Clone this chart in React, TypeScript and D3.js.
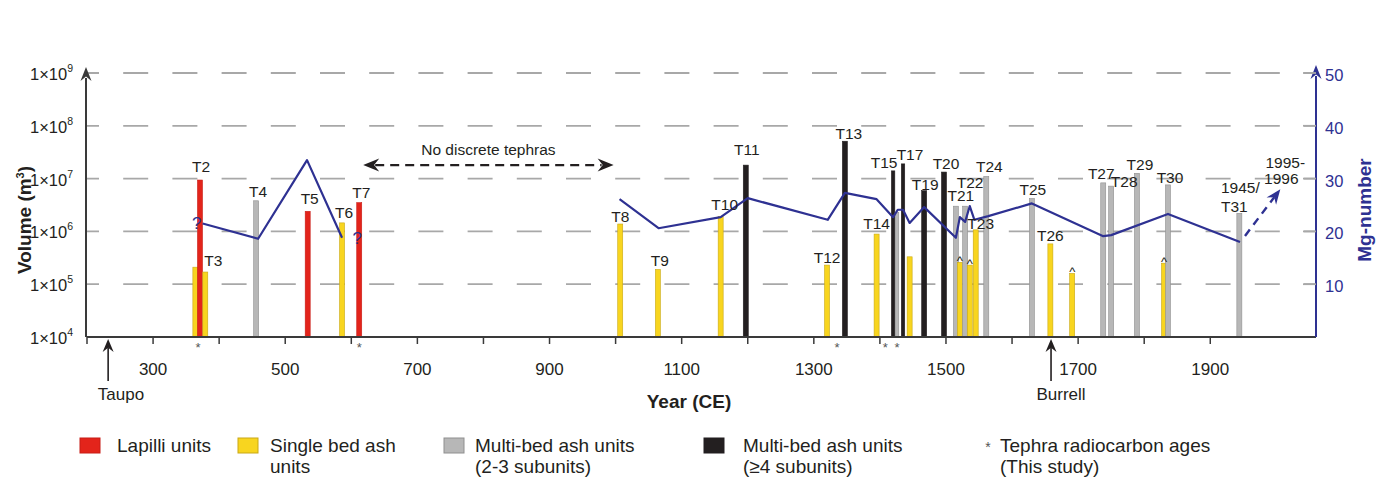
import * as d3 from 'd3';

// ---- data ----
const barLabels = ['', 'T2', 'T3', 'T4', 'T5', 'T6', 'T7', 'T8', 'T9', 'T10', 'T11', 'T12', 'T13', 'T14', 'T15', '', 'T17', '', 'T19', 'T20', 'T21', '', 'T22', '', 'T23', 'T24', 'T25', 'T26', '', 'T27', 'T28', 'T29', '', 'T30', 'T31'];
const barYears = [364, 371, 379, 456, 534, 586, 612, 1007, 1064, 1159, 1197, 1320, 1347, 1395, 1420, 1426, 1435, 1445, 1467, 1497, 1515, 1521, 1529, 1536, 1545, 1561, 1630, 1658, 1691, 1738, 1750, 1789, 1830, 1836, 1944];
const barVolumes = [2.1e5, 9.4e6, 1.7e5, 3.8e6, 2.4e6, 1.45e6, 3.5e6, 1.38e6, 1.9e5, 1.9e6, 1.8e7, 2.3e5, 5.1e7, 8.9e5, 1.4e7, 2.3e6, 1.9e7, 3.3e5, 5.9e6, 1.33e7, 3.0e6, 2.6e5, 3.0e6, 2.3e5, 1.07e6, 1.1e7, 4.2e6, 5.8e5, 1.6e5, 8.3e6, 7.2e6, 1.26e7, 2.5e5, 7.6e6, 2.2e6];
// L = lapilli, S = single bed ash, M = multi-bed 2-3, B = multi-bed >=4
const barTypes = ['S', 'L', 'S', 'M', 'L', 'S', 'L', 'S', 'S', 'S', 'B', 'S', 'B', 'S', 'B', 'M', 'B', 'S', 'B', 'B', 'M', 'S', 'M', 'S', 'S', 'M', 'M', 'S', 'S', 'M', 'M', 'M', 'S', 'M', 'M'];
const caretYears = [1521, 1536, 1691, 1830];
const asteriskYears = [368, 612, 1335, 1408, 1426];

const mgEarlyYears = [375, 459, 533, 586];
const mgEarly = [21.5, 18.6, 33.5, 18.8];
const mgLateYears = [1006, 1065, 1159, 1200, 1321, 1347, 1395, 1420, 1427, 1435, 1445, 1467, 1515, 1521, 1529, 1536, 1543, 1564, 1630, 1738, 1750, 1836, 1945];
const mgLate = [26.1, 20.6, 22.7, 26.3, 22.2, 27.3, 26.1, 22.7, 24.1, 24.1, 21.6, 24.6, 18.8, 22.7, 21.8, 24.8, 22.2, 22.9, 25.3, 19.1, 19.3, 23.3, 18.0];
const mgModern = { year: 2006, mg: 28 };

const volumeTicks = [1e4, 1e5, 1e6, 1e7, 1e8, 1e9];
const mgTicks = [10, 20, 30, 40, 50];
const yearTicks = d3.range(200, 2000, 100);
const yearLabels = [300, 500, 700, 900, 1100, 1300, 1500, 1700, 1900];

const legendItems = [
  { type: 'L', lines: ['Lapilli units'] },
  { type: 'S', lines: ['Single bed ash', 'units'] },
  { type: 'M', lines: ['Multi-bed ash units', '(2-3 subunits)'] },
  { type: 'B', lines: ['Multi-bed ash units', '(\u22654 subunits)'] },
];

// label nudges (px) relative to bar top
const labelNudge: Record<string, [number, number]> = {
  T2: [1, -8], T3: [8, -6], T4: [2, -4], T5: [2, -7], T6: [2, -5], T7: [2, -5],
  T8: [0, -2], T9: [2, -3], T10: [4, -7], T11: [1, -10], T12: [0, -2], T13: [4, -2],
  T14: [0, -5], T15: [-9, -3], T17: [7, -4], T19: [1, -1], T20: [2, -3], T21: [5, -5],
  T22: [5, -18], T23: [5, -1], T24: [3, -4], T25: [1, -3], T26: [0, -3], T27: [-2, -4],
  T28: [13, 1], T29: [3, -3], T30: [2, -2], T31: [-5, -1],
};

const fill: Record<string, string> = { L: '#e3241b', S: '#f8d51f', M: '#b7b7b7', B: '#231f20' };
const edge: Record<string, string> = { L: '#c81d17', S: '#c9a816', M: '#8f8f8f', B: '#231f20' };

const BLUE = '#2e3192';
const INK = '#231f20';
const FONT = "'Liberation Sans', Arial, Helvetica, sans-serif";

const x = d3.scaleLinear().domain([200, 2060]).range([87, 1316]);
const yV = d3.scaleLog().domain([1e4, 1e9]).range([337, 73]);
const yM = d3.scaleLinear().domain([0, 50]).range([337, 73]);

const X0 = x(200);
const X1 = x(2060);
const Y0 = yV(1e4);

// stealth arrow head, tip at (tx,ty), pointing along angle (radians)
function arrowHead(tx: number, ty: number, angle: number, len = 14, wid = 11) {
  const pts: [number, number][] = [[0, 0], [-len, -wid / 2], [-len * 0.68, 0], [-len, wid / 2]];
  const c = Math.cos(angle), s = Math.sin(angle);
  return 'M' + pts.map(([px, py]) => `${tx + px * c - py * s},${ty + px * s + py * c}`).join('L') + 'Z';
}

const mgLine = d3.line<[number, number]>().x(d => x(d[0])).y(d => yM(d[1]));

export default function App() {
  const early = mgEarlyYears.map((yr, i) => [yr, mgEarly[i]] as [number, number]);
  const late = mgLateYears.map((yr, i) => [yr, mgLate[i]] as [number, number]);
  const last = late[late.length - 1];
  const ax = x(last[0]) + 5, ay = yM(last[1]) - 6;
  const bx = x(mgModern.year), by = yM(mgModern.mg);
  const ang = Math.atan2(by - ay, bx - ax);

  const noTephraY = yV(1.8e7);
  const noTephraA = x(618), noTephraB = x(997);

  return (
    <svg width={1376} height={483} style={{ position: 'absolute', left: 0, top: 0, background: '#fff' }} fontFamily={FONT}>
      {/* grid */}
      {volumeTicks.slice(1).map(v => (
        <line key={v} x1={X0} x2={X1} y1={yV(v)} y2={yV(v)} stroke="#a8a8a8" strokeWidth={1.8} strokeDasharray="25 24.2" strokeDashoffset={13} />
      ))}

      {/* bars */}
      {barYears.map((yr, i) => {
        const t = barTypes[i];
        const w = ['T15', 'T17'].includes(barLabels[i]) || (yr === 1426 && t === 'M') ? 3.4 : 5;
        const top = yV(barVolumes[i]);
        return (
          <rect key={i} x={x(yr) - w / 2} y={top} width={w} height={Y0 - top} fill={fill[t]} stroke={edge[t]} strokeWidth={0.6} />
        );
      })}

      {/* Mg-number line */}
      <path d={mgLine(early) || ''} fill="none" stroke={BLUE} strokeWidth={2.2} strokeLinejoin="round" />
      <path d={mgLine(late) || ''} fill="none" stroke={BLUE} strokeWidth={2.2} strokeLinejoin="round" />
      <line x1={ax} y1={ay} x2={bx - 10 * Math.cos(ang)} y2={by - 10 * Math.sin(ang)} stroke={BLUE} strokeWidth={2.4} strokeDasharray="8 6" />
      <path d={arrowHead(bx, by, ang, 15, 12)} fill={BLUE} />
      <text x={x(366)} y={yM(21.5) + 6} fontSize={17} fill={BLUE} textAnchor="middle">?</text>
      <text x={x(609)} y={yM(18.8) + 6} fontSize={17} fill={BLUE} textAnchor="middle">?</text>

      {/* bar labels */}
      {barLabels.map((lab, i) => {
        if (!lab) return null;
        const [dx, dy] = labelNudge[lab] || [0, -4];
        return (
          <text key={lab} x={x(barYears[i]) + dx} y={yV(barVolumes[i]) + dy} fontSize={15.5} fill={INK} textAnchor="middle">{lab}</text>
        );
      })}
      <text x={x(1944) + 1} y={193} fontSize={15.5} fill={INK} textAnchor="middle">1945/</text>
      <text x={bx + 5} y={by - 21} fontSize={15.5} fill={INK} textAnchor="middle">1995-</text>
      <text x={bx + 1} y={by - 5} fontSize={15.5} fill={INK} textAnchor="middle">1996</text>

      {/* carets */}
      {caretYears.map(yr => {
        const i = barYears.indexOf(yr);
        return (
          <text key={yr} x={x(yr)} y={yV(barVolumes[i]) + 3} fontSize={13} fill={INK} textAnchor="middle">^</text>
        );
      })}

      {/* no discrete tephras */}
      <line x1={noTephraA + 12} x2={noTephraB - 12} y1={noTephraY} y2={noTephraY} stroke={INK} strokeWidth={2.2} strokeDasharray="9 6" />
      <path d={arrowHead(noTephraA, noTephraY, Math.PI, 16, 13)} fill={INK} />
      <path d={arrowHead(noTephraB, noTephraY, 0, 16, 13)} fill={INK} />
      <text x={(noTephraA + noTephraB) / 2} y={noTephraY - 10} fontSize={15.5} fill={INK} textAnchor="middle">No discrete tephras</text>

      {/* x axis */}
      <line x1={X0} x2={X1} y1={Y0} y2={Y0} stroke="#3a3a3a" strokeWidth={2} />
      {yearTicks.map(t => (
        <line key={t} x1={x(t)} x2={x(t)} y1={Y0} y2={Y0 + 7} stroke="#3a3a3a" strokeWidth={1.5} />
      ))}
      {yearLabels.map(t => (
        <text key={t} x={x(t)} y={375} fontSize={17} fill={INK} textAnchor="middle">{t}</text>
      ))}
      {asteriskYears.map(yr => (
        <text key={yr} x={x(yr)} y={352} fontSize={13} fill="#555" textAnchor="middle">*</text>
      ))}
      <text x={689} y={408} fontSize={19} fontWeight="bold" fill={INK} textAnchor="middle">Year (CE)</text>

      {/* Taupo / Burrell */}
      {[{ yr: 232, name: 'Taupo', lx: 121 }, { yr: 1659, name: 'Burrell', lx: 1061 }].map(a => (
        <g key={a.name}>
          <line x1={x(a.yr)} x2={x(a.yr)} y1={381} y2={348} stroke={INK} strokeWidth={1.6} />
          <path d={arrowHead(x(a.yr), Y0 + 2, -Math.PI / 2, 13, 11)} fill={INK} />
          <text x={a.lx} y={400} fontSize={17} fill={INK} textAnchor="middle">{a.name}</text>
        </g>
      ))}

      {/* left axis */}
      <line x1={X0 - 1} x2={X0 - 1} y1={Y0} y2={78} stroke="#3a3a3a" strokeWidth={2} />
      <path d={arrowHead(X0 - 1, 67, -Math.PI / 2, 14, 11)} fill="#3a3a3a" />
      {volumeTicks.map(v => (
        <text key={v} x={73} y={yV(v) + 7} fontSize={16.5} fill={INK} textAnchor="end">
          1×10
          <tspan fontSize={10.5} dy={-8}>{Math.round(Math.log10(v))}</tspan>
        </text>
      ))}
      <text transform="translate(31,220) rotate(-90)" fontSize={19} fontWeight="bold" fill={INK} textAnchor="middle">
        Volume (m<tspan fontSize={11} dy={-7}>3</tspan><tspan dy={7}>)</tspan>
      </text>

      {/* right axis */}
      <line x1={X1} x2={X1} y1={Y0} y2={76} stroke={BLUE} strokeWidth={2} />
      <path d={arrowHead(X1, 65, -Math.PI / 2, 14, 11)} fill={BLUE} />
      {mgTicks.map(m => (
        <g key={m}>
          <line x1={X1 - 13} x2={X1} y1={yM(m)} y2={yM(m)} stroke="#a8a8a8" strokeWidth={1.8} />
          <text x={1325} y={yM(m) + 8} fontSize={16.5} fill={BLUE}>{m}</text>
        </g>
      ))}
      <text transform="translate(1371,210) rotate(-90)" fontSize={19} fontWeight="bold" fill={BLUE} textAnchor="middle">Mg-number</text>

      {/* legend */}
      {legendItems.map((it, i) => {
        const lx = [80, 238, 444, 704][i];
        const tx = [117, 270, 475, 743][i];
        return (
          <g key={i}>
            <rect x={lx} y={438} width={20} height={15} fill={fill[it.type]} stroke={it.type === 'B' ? INK : edge[it.type]} strokeWidth={1} />
            {it.lines.map((ln, j) => (
              <text key={j} x={tx} y={452 + j * 21} fontSize={19} fill={INK}>{ln}</text>
            ))}
          </g>
        );
      })}
      <text x={988} y={452} fontSize={14} fill="#555" textAnchor="middle">*</text>
      <text x={1000} y={452} fontSize={19} fill={INK}>Tephra radiocarbon ages</text>
      <text x={1000} y={473} fontSize={19} fill={INK}>(This study)</text>
    </svg>
  );
}
